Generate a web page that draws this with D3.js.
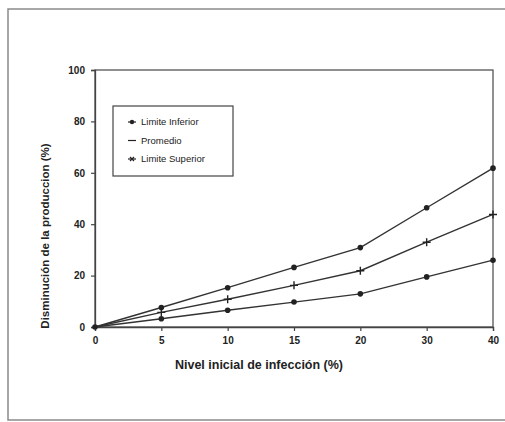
<!DOCTYPE html>
<html>
<head>
<meta charset="utf-8">
<script src="https://cdn.jsdelivr.net/npm/d3@7"></script>
<style>
body { margin: 0; background: #fff; }
text { font-family: "Liberation Sans", Arial, sans-serif; fill: #222; }
</style>
</head>
<body>
<div id="viz"></div>
<script>
// data
var niveles = ["0", "5", "10", "15", "20", "30", "40"];
var superior = [0, 7.6, 15.3, 23.2, 30.9, 46.4, 61.8];
var promedio = [0, 5.7, 10.8, 16.2, 21.9, 33, 43.8];
var inferior = [0, 3.2, 6.5, 9.7, 12.9, 19.5, 26];
var yTicks = [0, 20, 40, 60, 80, 100];
var leyenda = ["Limite Inferior", "Promedio", "Limite Superior"];

var svg = d3.select("#viz")
	.append("svg")
	.attr("width", 505)
	.attr("height", 422);

// outer frame
svg.append("path")
	.attr("d", "M520,9 H8 V420 H520")
	.attr("fill", "none")
	.attr("stroke", "#8a8a8a")
	.attr("stroke-width", 1.5);

var x = d3.scalePoint().domain(niveles).range([95, 493]);
var y = d3.scaleLinear().domain([0, 100]).range([327, 70]);

// plot box
svg.append("rect")
	.attr("x", 95).attr("y", 70)
	.attr("width", 398).attr("height", 257)
	.attr("fill", "none")
	.attr("stroke", "#555")
	.attr("stroke-width", 1.3);

var xAxis = svg.append("g")
	.attr("transform", "translate(0,327)")
	.call(d3.axisBottom(x).tickSize(4).tickPadding(6));
var yAxis = svg.append("g")
	.attr("transform", "translate(95,0)")
	.call(d3.axisLeft(y).tickValues(yTicks).tickSize(4).tickPadding(6));

[xAxis, yAxis].forEach(function(g){
	g.select(".domain").attr("stroke", "#444").attr("stroke-width", 1.3);
	g.selectAll(".tick line").attr("stroke", "#444").attr("stroke-width", 1.2);
	g.selectAll("text")
		.attr("font-size", 10)
		.attr("font-weight", "bold")
		.attr("fill", "#222");
});

// axis titles
svg.append("text")
	.attr("x", 259).attr("y", 369)
	.attr("text-anchor", "middle")
	.attr("font-size", 12.5)
	.attr("font-weight", "bold")
	.text("Nivel inicial de infección (%)");

svg.append("text")
	.attr("transform", "translate(49,236) rotate(-90)")
	.attr("text-anchor", "middle")
	.attr("font-size", 11.5)
	.attr("font-weight", "bold")
	.text("Disminución de la produccion (%)");

var line = d3.line()
	.x(function(d, i){ return x(niveles[i]); })
	.y(function(d){ return y(d); });

var series = [
	{ values: superior, marker: "circle" },
	{ values: promedio, marker: "plus" },
	{ values: inferior, marker: "circle" }
];

series.forEach(function(s){
	svg.append("path")
		.datum(s.values)
		.attr("d", line)
		.attr("fill", "none")
		.attr("stroke", "#333")
		.attr("stroke-width", 1.4);

	var pts = svg.append("g").selectAll("g")
		.data(s.values.slice(1))
		.enter()
		.append("g")
		.attr("transform", function(d, i){
			return "translate(" + x(niveles[i + 1]) + "," + y(d) + ")";
		});
	if (s.marker == "circle") {
		pts.append("circle").attr("r", 2.8).attr("fill", "#222");
	} else {
		pts.append("path")
			.attr("d", "M-4,0H4M0,-4V4")
			.attr("stroke", "#222")
			.attr("stroke-width", 1.4);
	}
});

// origin point
svg.append("circle")
	.attr("cx", x("0")).attr("cy", y(0))
	.attr("r", 2.8).attr("fill", "#222");

// legend
var leg = svg.append("g");
leg.append("rect")
	.attr("x", 113).attr("y", 106)
	.attr("width", 120).attr("height", 70)
	.attr("fill", "#fff")
	.attr("stroke", "#444")
	.attr("stroke-width", 1.2);

var items = leg.selectAll("g.item")
	.data(leyenda)
	.enter()
	.append("g")
	.attr("class", "item")
	.attr("transform", function(d, i){
		return "translate(132," + (122 + i * 18.5) + ")";
	});

items.append("path")
	.attr("d", "M-4,0H4")
	.attr("stroke", "#222")
	.attr("stroke-width", 1.2);
items.filter(function(d, i){ return i == 0; })
	.append("circle").attr("r", 2.2).attr("fill", "#222");
items.filter(function(d, i){ return i == 2; })
	.append("path")
	.attr("d", "M-2,-2L2,2M-2,2L2,-2")
	.attr("stroke", "#222")
	.attr("stroke-width", 1.2);

items.append("text")
	.attr("x", 9)
	.attr("dy", "0.35em")
	.attr("font-size", 9.5)
	.text(function(d){ return d; });
</script>
</body>
</html>
